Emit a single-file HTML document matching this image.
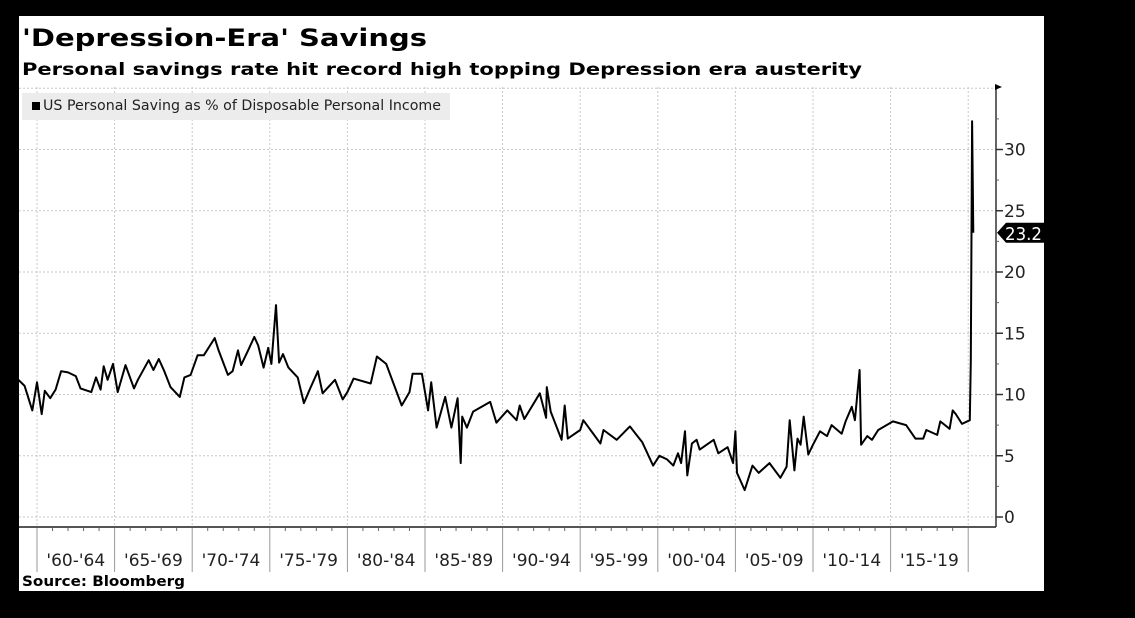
<!DOCTYPE html>
<html><head><meta charset="utf-8"><style>
html,body{margin:0;padding:0;background:#000;width:1135px;height:618px;overflow:hidden}
svg{display:block}
text{font-family:"DejaVu Sans","Liberation Sans",sans-serif}
</style></head><body>
<svg id="chart" width="1135" height="618" viewBox="0 0 1135 618" xmlns="http://www.w3.org/2000/svg">
<rect x="0" y="0" width="1135" height="618" fill="#000"/>
<rect x="19" y="16" width="1025" height="575" fill="#fff"/>
<text x="22" y="46" font-size="24" font-weight="bold" textLength="405" lengthAdjust="spacingAndGlyphs">'Depression-Era' Savings</text>
<text x="22" y="75" font-size="17" font-weight="bold" textLength="840" lengthAdjust="spacingAndGlyphs">Personal savings rate hit record high topping Depression era austerity</text>
<g id="grid"></g>
<g>
<rect x="22" y="93" width="428" height="27" fill="#ececec"/>
<rect x="32" y="102" width="8" height="8" fill="#000"/>
<text x="43" y="110" font-size="14" fill="#222" textLength="398" lengthAdjust="spacingAndGlyphs">US Personal Saving as % of Disposable Personal Income</text>
</g>
<g id="axes"></g>
<path id="series" fill="none" stroke="#000" stroke-width="2" stroke-linejoin="round"/>
<g id="tag"></g>
<text x="22" y="586" font-size="14" font-weight="bold" textLength="163" lengthAdjust="spacingAndGlyphs">Source: Bloomberg</text>
</svg>
<script>
const years=[1958.8,1959.2,1959.7,1960.0,1960.3,1960.5,1960.85,1961.2,1961.55,1962.0,1962.5,1962.8,1963.5,1963.8,1964.1,1964.3,1964.55,1964.9,1965.2,1965.7,1966.25,1966.5,1967.2,1967.5,1967.85,1968.2,1968.6,1969.2,1969.5,1969.9,1970.35,1970.75,1971.45,1971.7,1972.3,1972.6,1972.95,1973.15,1973.6,1974.0,1974.25,1974.6,1974.9,1975.1,1975.4,1975.6,1975.85,1976.2,1976.8,1977.2,1977.6,1978.1,1978.4,1979.2,1979.7,1980.0,1980.4,1981.5,1981.9,1982.5,1983.5,1984.0,1984.2,1984.8,1985.2,1985.4,1985.75,1986.3,1986.7,1987.1,1987.3,1987.4,1987.7,1988.1,1989.2,1989.6,1990.3,1990.9,1991.1,1991.4,1992.4,1992.8,1992.85,1993.1,1993.8,1994.0,1994.2,1995.0,1995.2,1996.3,1996.5,1997.35,1998.2,1999.0,1999.7,2000.1,2000.6,2001.0,2001.3,2001.5,2001.75,2001.9,2002.2,2002.5,2002.7,2003.6,2003.9,2004.5,2004.85,2005.0,2005.1,2005.6,2006.1,2006.5,2007.2,2007.9,2008.3,2008.5,2008.8,2009.0,2009.2,2009.4,2009.7,2010.0,2010.45,2010.9,2011.2,2011.85,2012.1,2012.5,2012.7,2013.0,2013.1,2013.5,2013.8,2014.2,2015.15,2016.0,2016.6,2017.1,2017.3,2018.0,2018.2,2018.8,2019.0,2019.2,2019.6,2020.1,2020.17,2020.25,2020.33];
const values=[11.2,10.7,8.7,11.0,8.4,10.3,9.7,10.4,11.9,11.8,11.5,10.5,10.2,11.4,10.4,12.3,11.2,12.5,10.2,12.4,10.5,11.2,12.8,12.0,12.9,11.9,10.6,9.8,11.4,11.6,13.2,13.2,14.6,13.6,11.6,11.9,13.6,12.4,13.6,14.7,14.0,12.2,13.8,12.5,17.3,12.6,13.3,12.2,11.4,9.3,10.5,11.9,10.1,11.2,9.6,10.2,11.3,10.9,13.1,12.5,9.1,10.2,11.7,11.7,8.7,11.0,7.3,9.8,7.3,9.7,4.4,8.2,7.3,8.6,9.4,7.7,8.7,7.9,9.1,8.0,10.1,8.1,10.6,8.6,6.3,9.1,6.4,7.1,7.9,6.0,7.1,6.3,7.4,6.1,4.2,5.0,4.7,4.2,5.2,4.4,7.0,3.4,6.0,6.3,5.5,6.3,5.2,5.7,4.4,7.0,3.6,2.2,4.2,3.6,4.4,3.2,4.1,7.9,3.8,6.4,5.9,8.2,5.1,5.9,7.0,6.6,7.5,6.8,7.8,9.0,7.9,12.0,5.9,6.6,6.3,7.1,7.8,7.5,6.4,6.4,7.1,6.7,7.8,7.2,8.7,8.4,7.6,7.9,12.7,32.3,23.2];
const yTicks=[0,5,10,15,20,25,30];
const periodLabels=["'60-'64","'65-'69","'70-'74","'75-'79","'80-'84","'85-'89","'90-'94","'95-'99","'00-'04","'05-'09","'10-'14","'15-'19"];
const periodStarts=[1960,1965,1970,1975,1980,1985,1990,1995,2000,2005,2010,2015,2020];
const lastValue=23.2;

const NS='http://www.w3.org/2000/svg';
const X0=19,X1=996,Y0=87,Y1=527;
const xs=t=>37+(t-1960)*15.52;
const ys=v=>517-v*12.25;
function mk(tag,attrs,parent){const e=document.createElementNS(NS,tag);for(const k in attrs)e.setAttribute(k,attrs[k]);parent.appendChild(e);return e;}
const grid=document.getElementById('grid'),axes=document.getElementById('axes');
for(let v=0;v<=35;v+=5){const l=mk('line',{x1:X0,x2:X1,y1:ys(v),y2:ys(v),stroke:'#c8c8c8','stroke-dasharray':'2,2'},grid);

}
periodStarts.forEach((yr,i)=>{const x=xs(yr);
const g=mk('line',{x1:x,x2:x,y1:Y0,y2:Y1,stroke:'#c8c8c8','stroke-dasharray':'2,2'},grid);


const d=mk('line',{x1:x,x2:x,y1:Y1,y2:572,stroke:'#999'},axes);


if(i<periodLabels.length){const t=mk('text',{x:(xs(yr)+xs(yr+5))/2,y:566,'font-size':17,'text-anchor':'middle',fill:'#222'},axes);t.textContent=periodLabels[i];

}
});
for(let yr=1960;yr<2020;yr++){if(yr%5===0)continue;const x=xs(yr);const t=mk('line',{x1:x,x2:x,y1:Y1,y2:Y1+4,stroke:'#666'},axes);

}
const xa=mk('line',{x1:X0,x2:X1,y1:Y1,y2:Y1,stroke:'#555','stroke-width':2},axes);


const ya=mk('line',{x1:X1,x2:X1,y1:Y0,y2:Y1,stroke:'#333','stroke-width':1.5},axes);


const tri=mk('path',{d:`M${X1-1},${Y0-3}L${X1+6},${Y0}L${X1-1},${Y0+3}Z`,fill:'#000'},axes);


for(let v=2.5;v<35;v+=5){const t=mk('line',{x1:X1,x2:X1+3,y1:ys(v),y2:ys(v),stroke:'#666'},axes);

}
yTicks.forEach(v=>{const t=mk('line',{x1:X1,x2:X1+7,y1:ys(v),y2:ys(v),stroke:'#333','stroke-width':1.5},axes);


const l=mk('text',{x:X1+8,y:ys(v)+6,'font-size':17,fill:'#222'},axes);l.textContent=v;

});
let d='';years.forEach((t,i)=>{d+=(i?'L':'M')+xs(t).toFixed(1)+','+ys(values[i]).toFixed(1);});
document.getElementById('series').setAttribute('d',d);
const tg=document.getElementById('tag');const ty=ys(lastValue);
const p=mk('path',{d:`M${X1+1},${ty}L${X1+10},${ty-10}L1044,${ty-10}L1044,${ty+10}L${X1+10},${ty+10}Z`,fill:'#000'},tg);


const tt=mk('text',{x:1005,y:ty+7,'font-size':18,fill:'#fff',textLength:37,lengthAdjust:'spacingAndGlyphs'},tg);tt.textContent=lastValue.toFixed(1);


</script>
</body></html>
